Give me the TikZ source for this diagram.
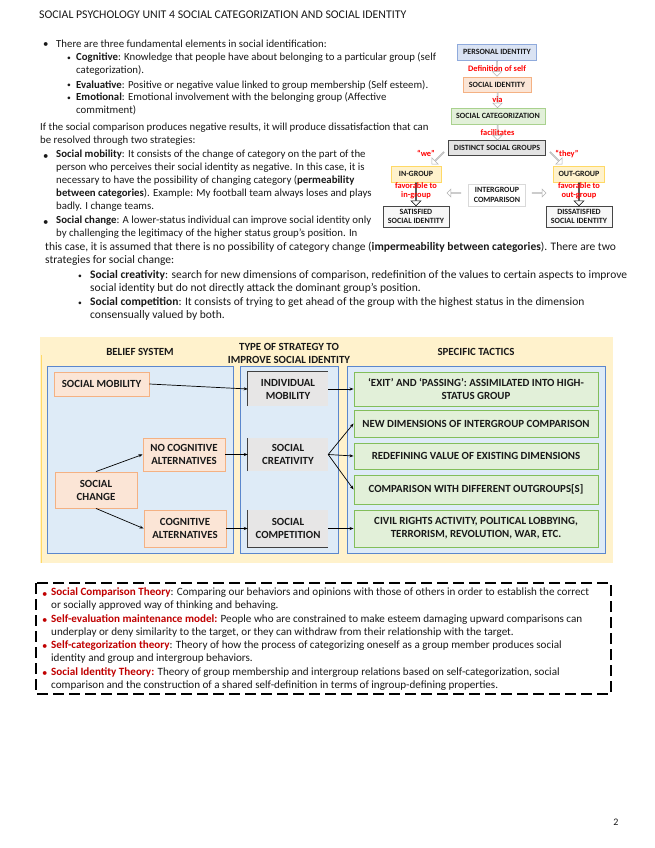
\documentclass[tikz,border=0pt]{standalone}
\usepackage{fontspec}
\setmainfont{Carlito}
\usetikzlibrary{arrows.meta, positioning, calc, shapes.arrows}

\definecolor{cInk}{RGB}{25,25,25}
\definecolor{cRed}{RGB}{192,0,0}
\definecolor{cBrightRed}{RGB}{255,0,0}
\definecolor{cYellowBg}{RGB}{255,242,204}
\definecolor{cYellowLine}{RGB}{255,217,102}
\definecolor{cPanel}{RGB}{222,235,247}
\definecolor{cPanelLine}{RGB}{91,135,205}
\definecolor{cOrange}{RGB}{251,229,214}
\definecolor{cOrangeLine}{RGB}{244,177,131}
\definecolor{cGray}{RGB}{231,230,230}
\definecolor{cGrayEdge}{RGB}{64,64,64}
\definecolor{cGreen}{RGB}{226,240,217}
\definecolor{cGreenLine}{RGB}{130,190,90}
\definecolor{cGreenSoft}{RGB}{169,209,142}
\definecolor{cBlue}{RGB}{218,227,243}
\definecolor{cBlueLine}{RGB}{143,170,220}

\newcommand{\subdot}{\raisebox{0.8pt}{\scalebox{0.7}{•}}}
\newcommand{\diagfont}{\fontsize{10.9}{13}\selectfont\bfseries}

\tikzset{
  bodytext/.style={anchor=north west, inner sep=0pt, align=left, text=cInk,
                   font=\fontsize{10.8}{13}\selectfont, execute at begin node=\strut},
  widetext/.style={bodytext, font=\fontsize{11.5}{13}\selectfont},
  theorytext/.style={bodytext, font=\fontsize{11.1}{13}\selectfont},
  dotmark/.style={anchor=north west, inner sep=0pt, text=cInk,
                  font=\fontsize{10.8}{13}\selectfont, execute at begin node=\strut},
  flowbox/.style={rectangle, inner sep=0pt, align=center, text=cInk, line width=0.7pt,
                  font=\fontsize{8}{9.2}\selectfont\bfseries},
  flowlabel/.style={inner sep=0pt, align=center, text=cBrightRed,
                    font=\fontsize{8.4}{9.2}\selectfont\bfseries},
  hollowarrow/.style={single arrow, draw=gray!60, fill=white, line width=0.5pt,
                      inner sep=0pt, minimum width=9pt, single arrow head extend=2pt},
  panel/.style={fill=cPanel, draw=cPanelLine, line width=0.6pt},
  colhead/.style={inner sep=0pt, align=center, text=cInk, font=\diagfont},
  beliefbox/.style={rectangle, inner sep=0pt, align=center, text=cInk, font=\diagfont,
                    fill=cOrange, draw=cOrangeLine, line width=0.9pt},
  strategybox/.style={rectangle, inner sep=0pt, align=center, text=cInk, font=\diagfont,
                      fill=cGray},
  tacticbox/.style={rectangle, inner sep=0pt, align=center, text=cInk, font=\diagfont,
                    fill=cGreen, draw=cGreenLine, line width=0.9pt,
                    minimum width=244pt},
  grayedge/.style={cGrayEdge, line width=1.2pt},
  link/.style={-{Stealth[length=4pt, width=3pt]}, line width=0.7pt, black},
  dashbox/.style={black, line width=1.8pt, dash pattern=on 11pt off 5pt}
}

\begin{document}
\begin{tikzpicture}[x=1pt, y=-1pt]
  \useasboundingbox[fill=white] (0,0) rectangle (655,848);

  % ── Title ──
  \node[anchor=base west, inner sep=0pt, font=\fontsize{11.8}{13}\selectfont, text=cInk]
      (title) at (39,19) {SOCIAL PSYCHOLOGY UNIT 4 SOCIAL CATEGORIZATION AND SOCIAL IDENTITY};

  % ── Elements of social identification ──
  \node[dotmark] (b1) at (43,38) {•};
  \node[bodytext] (elems) at (56,38)
      {There are three fundamental elements in social identification:};
  \node[dotmark] (b1a) at (67,52) {\subdot};
  \node[bodytext] (cogn) at (76,52)
      {\textbf{Cognitive}: Knowledge that people have about belonging to a particular group (self\\
       categorization).};
  \node[dotmark] (b1b) at (67,79) {\subdot};
  \node[bodytext] (evalu) at (76,79)
      {\textbf{Evaluative}: Positive or negative value linked to group membership (Self esteem).};
  \node[dotmark] (b1c) at (67,92) {\subdot};
  \node[bodytext] (emot) at (76,92)
      {\textbf{Emotional}: Emotional involvement with the belonging group (Affective\\
       commitment)};

  % ── Two strategies ──
  \node[bodytext] (negres) at (40,123)
      {If the social comparison produces negative results, it will produce dissatisfaction that can\\
       be resolved through two strategies:};
  \node[dotmark] (b2) at (43,150) {•};
  \node[bodytext] (mobil) at (56,150)
      {\textbf{Social mobility}: It consists of the change of category on the part of the\\
       person who perceives their social identity as negative. In this case, it is\\
       necessary to have the possibility of changing category (\textbf{permeability}\\
       \textbf{between categories}). Example: My football team always loses and plays\\
       badly. I change teams.};
  \node[dotmark] (b3) at (43,216) {•};
  \node[bodytext] (change) at (56,216)
      {\textbf{Social change}: A lower-status individual can improve social identity only\\
       by challenging the legitimacy of the higher status group’s position. In};
  \node[widetext] (change2) at (45,242)
      {this case, it is assumed that there is no possibility of category change
       (\textbf{impermeability between categories}). There are two\\
       strategies for social change:};
  \node[dotmark] (b3a) at (78,270) {\subdot};
  \node[widetext] (creat) at (90,270)
      {\textbf{Social creativity}: search for new dimensions of comparison, redefinition of the values to certain aspects to improve\\
       social identity but do not directly attack the dominant group’s position.};
  \node[dotmark] (b3b) at (78,297) {\subdot};
  \node[widetext] (compet) at (90,297)
      {\textbf{Social competition}: It consists of trying to get ahead of the group with the highest status in the dimension\\
       consensually valued by both.};

  % ── Identity flow (top right) ──
  \node[flowbox, fill=cBlue, draw=cBlueLine, minimum width=79pt, minimum height=16pt]
      (pid) at (497,52) {PERSONAL IDENTITY};
  \node[flowbox, fill=cOrange, draw=cOrangeLine, minimum width=68pt, minimum height=15pt]
      (sid) at (497,84.5) {SOCIAL IDENTITY};
  \node[flowbox, fill=cGreen, draw=cGreenSoft, minimum width=94pt, minimum height=16pt]
      (scat) at (498,116) {SOCIAL CATEGORIZATION};
  \node[flowbox, fill=gray!22, draw=gray!55!black, minimum width=97pt, minimum height=15pt]
      (dsg) at (497,148) {DISTINCT SOCIAL GROUPS};
  \node[flowbox, fill=cYellowBg, draw=cYellowLine, minimum width=50pt, minimum height=16pt]
      (ingrp) at (416,174) {IN-GROUP};
  \node[flowbox, fill=cYellowBg, draw=cYellowLine, minimum width=51pt, minimum height=16pt]
      (outgrp) at (579,174) {OUT-GROUP};
  \node[flowbox, fill=white, draw=gray!30, minimum width=57pt, minimum height=22pt]
      (icmp) at (497,195) {INTERGROUP\\COMPARISON};
  \node[flowbox, fill=gray!6, draw=gray!55!black, minimum width=66pt, minimum height=21pt]
      (sat) at (416,216.5) {SATISFIED\\SOCIAL IDENTITY};
  \node[flowbox, fill=gray!6, draw=gray!55!black, minimum width=66pt, minimum height=21pt]
      (dsat) at (579,216.5) {DISSATISFIED\\SOCIAL IDENTITY};

  \node[hollowarrow, rotate=-90, minimum height=15pt] (a1) at ($(pid.south)!0.5!(sid.north)$) {};
  \node[hollowarrow, rotate=-90, minimum height=15pt] (a2) at ($(sid.south)!0.5!(scat.north)$) {};
  \node[hollowarrow, rotate=-90, minimum height=15pt] (a3) at ($(scat.south)!0.5!(dsg.north)$) {};
  \node[hollowarrow, rotate=-135, minimum height=17pt] (a4) at (438,158) {};
  \node[hollowarrow, rotate=-45, minimum height=17pt] (a5) at (556,158) {};
  \node[hollowarrow, rotate=180, minimum height=14pt, minimum width=8pt] (a6)
      at ($(icmp.west)+(-14,-2)$) {};
  \node[hollowarrow, rotate=0, minimum height=14pt, minimum width=8pt] (a7)
      at ($(icmp.east)+(13,-2)$) {};
  \node[hollowarrow, draw=black, rotate=-90, minimum height=23pt, minimum width=10pt] (a8)
      at ($(ingrp.south)!0.5!(sat.north)$) {};
  \node[hollowarrow, draw=black, rotate=-90, minimum height=23pt, minimum width=10pt] (a9)
      at ($(outgrp.south)!0.5!(dsat.north)$) {};

  \node[flowlabel] (defself) at (a1) {Definition of self};
  \node[flowlabel] (via) at (a2) {via};
  \node[flowlabel] (facil) at (a3) {facilitates};
  \node[flowlabel] (we) at (426,153) {“we”};
  \node[flowlabel] (they) at (567,154) {“they”};
  \node[flowlabel] (favin) at ($(a8)+(0,-3)$) {favorable to\\in-group};
  \node[flowlabel] (favout) at ($(a9)+(0,-3)$) {favorable to\\out-group};

  % ── Strategy table ──
  \fill[cYellowBg] (40,337) rectangle (613,563);
  \draw[cYellowLine, line width=1pt] (41,355) -- (41,563);
  \filldraw[panel] (47,366) rectangle (233,553);
  \filldraw[panel] (240,366) rectangle (338,553);
  \filldraw[panel] (347,366) rectangle (605,553);

  \node[colhead] (hbelief) at (140,352) {BELIEF SYSTEM};
  \node[colhead] (hstrat) at (289,353) {TYPE OF STRATEGY TO\\IMPROVE SOCIAL IDENTITY};
  \node[colhead] (htact) at (476,352) {SPECIFIC TACTICS};

  % belief system
  \node[beliefbox, minimum width=95pt, minimum height=24pt] (smob) at (101.5,384) {SOCIAL MOBILITY};
  \node[beliefbox, minimum width=82pt, minimum height=33pt] (nocog) at (184,454.5)
      {NO COGNITIVE\\ALTERNATIVES};
  \node[beliefbox, minimum width=82pt, minimum height=36pt] (schange) at (96,490)
      {SOCIAL\\CHANGE};
  \node[beliefbox, minimum width=82pt, minimum height=37pt] (cogalt) at (185,528.5)
      {COGNITIVE\\ALTERNATIVES};

  % strategy type
  \node[strategybox, minimum width=80pt, minimum height=34pt] (indmob) at (288,389)
      {INDIVIDUAL\\MOBILITY};
  \node[strategybox, minimum width=80pt, minimum height=33pt] (screat) at (288,454.5)
      {SOCIAL\\CREATIVITY};
  \node[strategybox, minimum width=80pt, minimum height=37pt] (scomp) at (288,528.5)
      {SOCIAL\\COMPETITION};
  \draw[grayedge] (indmob.south west) -- (indmob.north west) -- (indmob.north east);
  \draw[grayedge] (screat.south west) -- (screat.north west);
  \draw[grayedge] (scomp.north west) -- (scomp.south west) -- (scomp.south east);

  % tactics
  \node[tacticbox, minimum height=34pt] (exitp) at (476,389)
      {‘EXIT’ AND ‘PASSING’: ASSIMILATED INTO HIGH-\\STATUS GROUP};
  \node[tacticbox, minimum height=27pt] (newdim) at (476,423.5)
      {NEW DIMENSIONS OF INTERGROUP COMPARISON};
  \node[tacticbox, minimum height=26pt] (redef) at (476,456)
      {REDEFINING VALUE OF EXISTING DIMENSIONS};
  \node[tacticbox, minimum height=29pt] (othgrp) at (476,489.5)
      {COMPARISON WITH DIFFERENT OUTGROUPS[S]};
  \node[tacticbox, minimum height=37pt] (civil) at (476,528.5)
      {CIVIL RIGHTS ACTIVITY, POLITICAL LOBBYING,\\TERRORISM, REVOLUTION, WAR, ETC.};

  % links
  \draw[link] (smob.east) -- (indmob.west);
  \draw[link] (indmob.east) -- (exitp.west);
  \draw[link] (schange.north) -- (nocog.west);
  \draw[link] (schange.south) -- (cogalt.west);
  \draw[link] (nocog.east) -- (screat.west);
  \draw[link] (cogalt.east) -- (scomp.west);
  \draw[link] (screat.east) -- (newdim.west);
  \draw[link] (screat.east) -- (redef.west);
  \draw[link] (screat.east) -- (othgrp.west);
  \draw[link] (scomp.east) -- (civil.west);

  % ── Theories box ──
  \draw[dashbox] (36,583) rectangle (611,694);
  \node[dotmark, text=cRed] (t1b) at (42,588) {•};
  \node[theorytext] (theo1) at (51,588)
      {\textcolor{cRed}{\textbf{Social Comparison Theory}}: Comparing our behaviors and opinions with those of others in order to establish the correct\\
       or socially approved way of thinking and behaving.};
  \node[dotmark, text=cRed] (t2b) at (42,614) {•};
  \node[theorytext] (theo2) at (51,614)
      {\textcolor{cRed}{\textbf{Self-evaluation maintenance model:}} People who are constrained to make esteem damaging upward comparisons can\\
       underplay or deny similarity to the target, or they can withdraw from their relationship with the target.};
  \node[dotmark, text=cRed] (t3b) at (42,640) {•};
  \node[theorytext] (theo3) at (51,640)
      {\textcolor{cRed}{\textbf{Self-categorization theory}}: Theory of how the process of categorizing oneself as a group member produces social\\
       identity and group and intergroup behaviors.};
  \node[dotmark, text=cRed] (t4b) at (42,667) {•};
  \node[theorytext] (theo4) at (51,667)
      {\textcolor{cRed}{\textbf{Social Identity Theory:}} Theory of group membership and intergroup relations based on self-categorization, social\\
       comparison and the construction of a shared self-definition in terms of ingroup-defining properties.};

  % ── Page number ──
  \node[inner sep=0pt, font=\fontsize{10}{12}\selectfont, text=cInk] (pgno) at (616,822) {2};

\end{tikzpicture}
\end{document}
